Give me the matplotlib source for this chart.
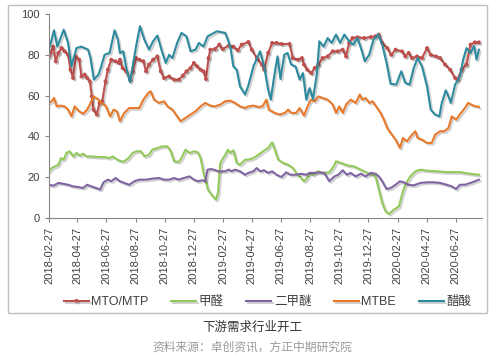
import matplotlib
matplotlib.use("Agg")
import matplotlib.pyplot as plt
import matplotlib.patheffects as pe
import numpy as np
import pandas as pd

plt.rcParams['font.family'] = ['Liberation Sans', 'Noto Sans CJK SC', 'DejaVu Sans']

startDate = pd.Timestamp("2018-02-27")
endDate = pd.Timestamp("2020-08-21")
tickLabels = ["2018-02-27", "2018-04-27", "2018-06-27", "2018-08-27", "2018-10-27",
              "2018-12-27", "2019-02-27", "2019-04-27", "2019-06-27", "2019-08-27",
              "2019-10-27", "2019-12-27", "2020-02-27", "2020-04-27", "2020-06-27"]

# weeks after 2018-02-27
mtoWeeks = [0, 0.5, 1.3, 2.0, 2.8, 3.8, 4.7, 5.7, 6.4, 7.2, 8.0, 9.0, 9.7, 10.7, 11.4, 12.2, 12.8, 13.3,
            14.3, 15.1, 15.9, 16.9, 17.6, 18.6, 19.9, 20.9, 21.2, 22.0, 23.0, 24.2, 25.0, 26.0, 27.0,
            28.2, 29.0, 29.9, 31.1, 32.4, 33.4, 34.4, 35.9, 37.4, 38.8, 40.0, 41.1, 42.3, 43.3, 44.3,
            45.3, 46.2, 46.9, 47.7, 48.2, 49.6, 50.9, 51.9, 53.7, 55.1, 56.4, 57.6, 59.6, 60.6, 62.1,
            63.6, 64.3, 65.5, 66.7, 68.0, 69.5, 71.9, 72.9, 74.4, 75.6, 76.2, 77.2, 78.4, 79.4, 80.5,
            81.8, 83.3, 84.8, 86.3, 87.8, 88.8, 89.7, 90.7, 92.2, 94.2, 96.2, 97.6, 98.6, 99.6, 101.1,
            102.3, 103.6, 105.5, 106.5, 107.5, 108.5, 110.0, 111.5, 113.0, 114.1, 115.7, 116.9, 118.4,
            119.9, 121.4, 122.1, 123.3, 124.8, 126.0, 127.3, 128.5]
mtoVals = [79.2, 80.9, 84, 76.8, 80.9, 83.3, 81.7, 80, 72.7, 68.6, 79.2, 77.6, 69.4, 70.3, 68.6, 67, 59.6, 53.1,
           50.7, 56.4, 57.2, 67, 72.7, 77.6, 76.8, 76, 77.6, 73.5, 71.9, 67.8, 71.9, 78.4, 77.6,
           76.8, 71.9, 75.2, 77.6, 79.2, 71.9, 68.6, 69.4, 67.8, 67.8, 69.8, 71.9, 73.5, 76, 74.3,
           72.7, 71.9, 68.1, 78.4, 82.5, 82.8, 85, 82.8, 84.5, 84, 82.2, 85, 86.3, 82.5, 78.4,
           75.2, 72.7, 80.9, 85.8, 85.8, 85.3, 85.3, 78.4, 77.6, 78.4, 75.2, 72.7, 71, 73.5, 75.2,
           78.4, 79.2, 81.7, 81.7, 82.5, 79.2, 85.8, 88.2, 88.6, 88.2, 88.7, 89.1, 89.9, 85.8, 83.3,
           80, 82.5, 81.7, 79.2, 80.9, 78.4, 79.2, 78.4, 83.3, 80, 79.2, 78.4, 75.2,
           72.7, 68.6, 67.8, 72.7, 75.2, 85, 86.1, 86.1]

hchoWeeks = [0, 0.8, 1.8, 2.8, 3.6, 4.4, 5.2, 6.2, 7.2, 8.2, 9.2, 10.2, 11.2, 12.6, 14.6, 16.6, 18.1, 19.1,
             20.1, 21.5, 22.5, 23.8, 25.0, 26.2, 27.5, 28.5, 29.9, 30.9, 32.4, 33.9, 35.4, 36.4, 37.4,
             38.8, 39.6, 40.8, 42.0, 43.3, 44.5, 45.3, 46.2, 47.5, 48.6, 49.9, 50.5, 51.2, 52.7, 53.5,
             54.2, 55.1, 56.1, 57.1, 58.6, 59.6, 61.1, 62.6, 64.0, 65.5, 66.7, 67.5, 68.5, 70.0, 71.5,
             72.9, 73.9, 75.4, 76.2, 77.2, 77.9, 78.9, 80.4, 81.8, 83.8, 85.1, 85.8, 87.3, 89.2, 91.2,
             93.2, 95.2, 96.7, 97.6, 98.6, 99.6, 100.6, 101.6, 103.1, 104.6, 105.5, 106.5, 108.0, 109.5,
             111.0, 113.0, 115.9, 118.9, 122.8, 125.8, 128.5]
hchoVals = [22.9, 24.5, 25.3, 26.1, 29.4, 28.6, 31.9, 32.7, 30.2, 31.9, 30.6, 31.5, 30.2, 30.2, 29.9, 29.9, 29.4, 30.2,
            28.9, 27.8, 27.8, 29.4, 31.9, 32.7, 32.7, 30.2, 31, 33.5, 34.3, 35.1, 35.1, 32.7, 27.8,
            27.5, 29.4, 33.5, 31.9, 32.7, 32.2, 29.4, 22.1, 13.9, 11.4, 9, 12.3, 27, 31, 33.5,
            31.9, 33.2, 27, 26.1, 28.6, 28.6, 29.4, 31, 32.7, 34.3, 37.1, 33.5, 28.6, 27, 26.1,
            24.5, 22.1, 19.6, 18, 19.6, 22.1, 21.2, 22.9, 22.1, 22.4, 25.3, 27.8, 27, 25.8, 25.3,
            23.7, 22.1, 21.2, 20.4, 13.9, 7.4, 3.3, 2.0, 4.1, 5.7, 11.4, 16.3, 20.4, 22.9,
            23.7, 23.2, 22.9, 22.5, 22.5, 21.7, 21.2]

dmeWeeks = [0, 1.3, 2.8, 4.2, 5.7, 7.2, 8.7, 10.2, 11.4, 12.6, 14.1, 15.3, 16.3, 17.6, 18.6, 19.9, 21.2, 22.5,
            24.0, 25.5, 27.0, 29.0, 30.9, 32.9, 34.4, 35.9, 37.4, 38.8, 40.3, 42.0, 43.3, 44.5, 45.8,
            46.7, 47.4, 48.6, 50.7, 52.7, 53.7, 54.6, 55.6, 57.1, 58.6, 59.6, 61.1, 62.1, 63.1, 64.3,
            65.5, 66.7, 68.0, 69.5, 70.9, 72.2, 73.9, 75.4, 76.9, 77.9, 79.4, 80.8, 82.3, 83.8, 85.3,
            86.5, 87.8, 89.0, 90.2, 91.7, 93.2, 94.7, 96.2, 97.6, 98.6, 99.6, 100.9, 102.1, 103.6,
            104.9, 106.0, 107.5, 109.0, 111.0, 113.0, 114.9, 116.9, 118.9, 120.4, 121.7, 122.8, 124.3,
            126.0, 127.3, 128.5]
dmeVals = [16.3, 15.8, 17.2, 16.8, 16.3, 15.5, 15.2, 14.7, 16.3, 15.5, 14.7, 13.9, 17.5, 18.8, 18, 19.6, 18, 17.2,
           16.3, 18, 18.8, 18.8, 19.3, 19.6, 18.8, 18.8, 19.6, 18.8, 19.6, 20.4, 18.8, 18, 18.5,
           18, 23.7, 24, 22.9, 22.9, 23.7, 22.9, 23.7, 22.9, 21.2, 22.1, 22.9, 24.5, 22.9, 23.4,
           22.1, 22.9, 21.2, 20.1, 22.4, 21.2, 21.2, 21.7, 21.2, 22.1, 22.1, 22.4, 22.1, 18, 20.4,
           21.2, 23.4, 21.2, 22.1, 20.4, 21.7, 20.4, 22.1, 21.7, 20.4, 18, 14.2, 14.7, 16.3,
           18, 17.5, 16.3, 16, 17.2, 17.5, 17.5, 17.2, 16.3, 15.5, 14.2, 16.3, 16.3,
           17.2, 18, 18.8]

mtbeWeeks = [0, 0.8, 1.5, 2.3, 3.3, 4.7, 5.7, 6.7, 7.7, 9.0, 10.2, 11.4, 12.2, 13.3, 14.6, 15.6, 16.9, 18.3,
             19.3, 20.3, 21.2, 22.5, 24.0, 25.5, 27.0, 28.2, 29.7, 30.4, 31.4, 32.9, 34.4, 35.4, 36.9,
             38.3, 39.3, 40.8, 42.3, 43.8, 45.3, 46.7, 48.2, 49.6, 51.2, 52.7, 54.2, 55.6, 57.1, 58.6,
             59.6, 61.1, 62.6, 63.8, 65.0, 65.7, 67.5, 69.0, 70.5, 71.5, 72.4, 73.9, 74.9, 76.2, 77.4,
             78.4, 79.4, 80.5, 81.8, 83.3, 84.8, 85.8, 86.8, 87.8, 88.8, 90.2, 91.7, 92.9, 93.7, 94.7,
             95.7, 96.7, 98.1, 99.1, 100.1, 101.1, 102.1, 103.6, 104.9, 105.8, 107.0, 108.5, 109.5,
             110.2, 111.5, 113.0, 114.4, 115.4, 116.9, 118.1, 119.4, 120.4, 121.7, 122.8, 124.3, 125.3,
             126.8, 128.5]
mtbeVals = [56.4, 57.2, 58.8, 54.7, 55.1, 54.7, 53.1, 49.8, 54.7, 52.3, 51.1, 53.1, 55.6, 59.6, 58.3, 56.4, 55.1, 49.8,
            53.1, 52.3, 47.4, 51.5, 53.9, 53.9, 53.9, 58, 61.3, 62.1, 58, 56.4, 57.2, 54.7, 53.1,
            49.8, 47.4, 49, 50.7, 52.3, 54.7, 56.4, 55.1, 54.7, 55.6, 57.2, 57.5, 56.4, 54.7, 53.9,
            54.7, 55.1, 54.4, 54.7, 58, 53.1, 51.5, 50.7, 51.5, 53.1, 51.5, 51.5, 53.9, 50.2, 55.1,
            58, 57.2, 59.6, 58.8, 58, 55.6, 51.5, 54.7, 51.5, 55.6, 58, 56.4, 60.5, 58, 58.8,
            56.4, 57.2, 53.9, 51.5, 48.2, 44.1, 41.7, 38.4, 34.3, 39.2, 37.6, 40.8, 42.5,
            39.2, 38.4, 36.8, 36.8, 40.8, 42.5, 42.5, 44.1, 49.8, 48.2, 50.7, 53.9, 56.4,
            55.1, 54.4]

aceticWeeks = [0, 1.5, 2.5, 4.4, 5.7, 6.7, 8.2, 9.7, 11.7, 12.4, 13.4, 14.8, 15.6, 16.6, 18.1, 19.6, 20.6, 21.2,
               22.2, 23.0, 24.2, 25.0, 26.2, 27.2, 28.5, 29.9, 31.1, 32.4, 33.9, 34.9, 35.9, 36.9, 38.3,
               39.6, 41.1, 42.3, 43.8, 44.8, 46.2, 47.4, 50.2, 52.7, 54.2, 55.1, 56.1, 57.1, 58.6, 59.6,
               61.1, 63.1, 64.3, 65.5, 66.3, 67.3, 68.3, 69.2, 70.3, 71.3, 72.4, 73.7, 74.9, 75.9, 76.9,
               77.9, 78.9, 80.1, 80.8, 82.1, 83.3, 84.5, 85.8, 87.0, 88.3, 89.7, 91.0, 92.2, 93.4, 94.4,
               95.7, 97.0, 98.4, 99.6, 100.9, 102.1, 103.8, 105.3, 106.5, 107.8, 109.0, 110.2, 111.5,
               113.0, 114.1, 115.4, 116.7, 117.4, 118.6, 119.4, 120.1, 121.4, 122.8, 123.8, 124.8, 126.0,
               127.1, 127.8, 128.5]
aceticVals = [82.5, 92, 84, 92.3, 85.8, 74.3, 83.3, 84, 82.5, 78.4, 67.8, 70.3, 74.3, 80, 80.9, 92, 87.4, 80.9,
              81.7, 74.3, 66.5, 74.3, 85.8, 94, 87.4, 82.5, 86.6, 89.4, 80.9, 76, 80, 78.4, 85.8,
              90.7, 89, 81.7, 82.5, 85.8, 84, 89, 91.5, 90.7, 84, 74.3, 72.7, 64.5, 60.5, 65,
              74.3, 81.7, 74.3, 62.9, 58, 69.4, 79.2, 68.1, 80, 80.9, 75.2, 74.3, 67.8, 71, 58,
              63.7, 58.3, 71, 86.6, 84, 88.2, 85.8, 89.9, 85.8, 89.9, 86.6, 85, 88.2, 82.5, 76.8,
              80, 87.4, 89.9, 85, 76, 65.8, 65.4, 71.9, 66.2, 65.4, 73.5, 78.4, 74.3,
              64.5, 53.1, 50.7, 49.8, 56.4, 62.6, 59.6, 56.4, 65.4, 69.4, 77.6, 83.3, 80.9,
              84.2, 77.6, 82.5]

seriesNames = ["MTO/MTP", "甲醛", "二甲醚", "MTBE", "醋酸"]
seriesColors = ["#C0504D", "#92C95A", "#8064A2", "#E8782A", "#2E8A9E"]


def toDates(weeks):
    return startDate + pd.to_timedelta(np.array(weeks) * 7, unit="D")


fig = plt.figure(figsize=(5.0, 3.58), dpi=100)
ax = fig.add_axes([0.098, 0.391, 0.866, 0.570])

shadow = [pe.SimpleLineShadow(offset=(1.2, -1.2), shadow_color="black", alpha=0.18), pe.Normal()]

allData = [(mtoWeeks, mtoVals), (hchoWeeks, hchoVals), (dmeWeeks, dmeVals),
           (mtbeWeeks, mtbeVals), (aceticWeeks, aceticVals)]
for (weeks, vals), name, color in zip(allData, seriesNames, seriesColors):
    if name == "MTO/MTP":
        ax.plot(toDates(weeks), vals, color=color, lw=1.5, marker="o", ms=1.8,
                label=name, path_effects=shadow)
    else:
        ax.plot(toDates(weeks), vals, color=color, lw=1.5, label=name, path_effects=shadow)

ax.set_xlim(startDate, endDate)
ax.set_ylim(0, 100)
ax.set_yticks([0, 20, 40, 60, 80, 100])
ax.set_xticks(pd.to_datetime(tickLabels))
ax.set_xticklabels(tickLabels, rotation=90)
ax.tick_params(axis="both", labelsize=8, colors="#404040", length=3, width=0.8)
ax.tick_params(axis="both", color="#868686")
for side in ["top", "right"]:
    ax.spines[side].set_visible(False)
for side in ["left", "bottom"]:
    ax.spines[side].set_color("#868686")
    ax.spines[side].set_linewidth(0.8)

leg = fig.legend(loc="center", bbox_to_anchor=(0.535, 0.156), ncol=5, frameon=False,
                 fontsize=9, handlelength=2.0, columnspacing=1.8, handletextpad=0.2)
for t in leg.get_texts():
    t.set_color("#404040")

# outer chart border
border = plt.Rectangle((0.016, 0.126), 0.958, 0.860, transform=fig.transFigure,
                       fill=False, edgecolor="#BFBFBF", linewidth=1.0)
fig.patches.append(border)

fig.text(0.505, 0.083, "下游需求行业开工", ha="center", va="center", fontsize=9, color="#333333")
fig.text(0.505, 0.028, "资料来源：卓创资讯，方正中期研究院", ha="center", va="center",
         fontsize=8.5, color="#9A9A9A")

fig.savefig("out.png", dpi=100)
